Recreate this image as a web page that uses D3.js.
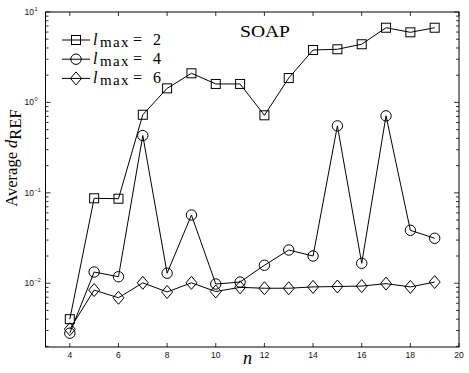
<!DOCTYPE html>
<html><head><meta charset="utf-8">
<script src="https://cdn.jsdelivr.net/npm/d3@7"></script>
<style>body{margin:0;background:#fff}svg{display:block}
.serif{font-family:'Liberation Serif','DejaVu Serif',serif;font-weight:normal}
.sans{font-family:'Liberation Sans',Arial,sans-serif;font-weight:normal}
</style>
</head><body>
<svg id="c" width="469" height="373"></svg>
<script>
const nValues = [4,5,6,7,8,9,10,11,12,13,14,15,16,17,18,19];
const lmax2 = [0.0040,0.087,0.086,0.73,1.43,2.1,1.6,1.6,0.72,1.86,3.8,3.87,4.4,6.7,5.96,6.7];
const lmax4 = [0.0028,0.0133,0.0118,0.43,0.0129,0.0568,0.0098,0.0103,0.0158,0.0233,0.0200,0.55,0.0166,0.71,0.0385,0.0314];
const lmax6 = [0.0031,0.0084,0.0069,0.0101,0.0080,0.0101,0.0081,0.0090,0.0088,0.0088,0.0091,0.0092,0.0093,0.0099,0.0091,0.0103];
const seriesNames = ["2","4","6"];
const seriesMarkers = ["square","circle","diamond"];
const xTicks = [4,6,8,10,12,14,16,18,20];
const yTickExps = [1,0,-1,-2];
const title = "SOAP";

const L=45.5,R=459,T=12,B=347;
const svg=d3.select("#c");
const x=d3.scaleLinear().domain([3,20]).range([L,R]);
const y=d3.scaleLog().domain([0.00197,10]).range([B,T]);

svg.append("rect").attr("x",L).attr("y",T).attr("width",R-L).attr("height",B-T)
  .attr("fill","none").attr("stroke","#000").attr("stroke-width",1);

const tk=svg.append("g").attr("stroke","#000").attr("stroke-width",0.8);
xTicks.forEach(v=>{
  tk.append("line").attr("x1",x(v)).attr("x2",x(v)).attr("y1",B).attr("y2",B-4);
  tk.append("line").attr("x1",x(v)).attr("x2",x(v)).attr("y1",T).attr("y2",T+4);
});
const dom=y.domain();
for(let e=-3;e<=1;e++){
  for(let m=1;m<=9;m++){
    const v=m*Math.pow(10,e);
    if(v<dom[0]||v>dom[1]) continue;
    const len=m===1?5:3;
    tk.append("line").attr("x1",L).attr("x2",L+len).attr("y1",y(v)).attr("y2",y(v));
    tk.append("line").attr("x1",R).attr("x2",R-len).attr("y1",y(v)).attr("y2",y(v));
  }
}
svg.append("g").selectAll("text").data(xTicks).join("text").attr("class","sans")
  .attr("x",d=>x(d)).attr("y",357.5).attr("text-anchor","middle")
  .attr("font-size",8.5).attr("fill","#111").text(d=>d);
const yl=svg.append("g").attr("class","sans").attr("fill","#111");
yTickExps.forEach(e=>{
  const yy=y(Math.pow(10,e));
  yl.append("text").attr("x",34).attr("y",yy+3).attr("text-anchor","end").attr("font-size",8.5).text("10");
  yl.append("text").attr("x",34.5).attr("y",yy-1).attr("font-size",5.5).text(e<0?"\u2212"+(-e):String(e));
});

svg.append("text").attr("class","serif").attr("x",x(11.3)).attr("y",364).attr("text-anchor","middle")
  .attr("font-style","italic").attr("font-size",18).text("n");
const ylab=svg.append("text").attr("class","serif").attr("transform","translate(17,158) rotate(-90)").attr("text-anchor","middle")
  .attr("font-size",16.5);
ylab.append("tspan").text("Average ");
ylab.append("tspan").attr("font-style","italic").text("d");
ylab.append("tspan").attr("dy",4).text("REF");

svg.append("text").attr("class","serif").attr("x",265).attr("y",37).attr("text-anchor","middle")
  .attr("font-size",17)
  .attr("textLength",50).attr("lengthAdjust","spacingAndGlyphs").text(title);

const line=d3.line().x((d,i)=>x(nValues[i])).y(d=>y(d));
function marker(g,type,cx,cy){
  if(type==="square") g.append("rect").attr("x",cx-4.5).attr("y",cy-4.5).attr("width",9).attr("height",9);
  else if(type==="circle") g.append("circle").attr("cx",cx).attr("cy",cy).attr("r",5.2);
  else g.append("path").attr("d",`M${cx},${cy-6.5}L${cx+5.5},${cy}L${cx},${cy+6.5}L${cx-5.5},${cy}Z`);
}
const allSeries=[lmax2,lmax4,lmax6];
allSeries.forEach((s,k)=>{
  const g=svg.append("g").attr("fill","none").attr("stroke","#000").attr("stroke-width",1);
  g.append("path").attr("d",line(s));
  s.forEach((v,i)=>marker(g,seriesMarkers[k],x(nValues[i]),y(v)));
});

const lg=svg.append("g");
seriesNames.forEach((nm,k)=>{
  const yy=40+k*19.2;
  const g=lg.append("g").attr("fill","none").attr("stroke","#000").attr("stroke-width",1);
  g.append("line").attr("x1",62).attr("x2",90).attr("y1",yy).attr("y2",yy);
  marker(g,seriesMarkers[k],76,yy);
  const t=lg.append("text").attr("class","serif").attr("font-size",16).attr("y",yy+5);
  t.append("tspan").attr("x",93).attr("font-style","italic").text("l");
  t.append("tspan").attr("x",100).attr("dy",2).attr("font-size",15).attr("letter-spacing",1.3).text("max");
  t.append("tspan").attr("x",133).attr("dy",-2).text("=");
  t.append("tspan").attr("x",153).text(nm);
});
</script>
</body></html>
